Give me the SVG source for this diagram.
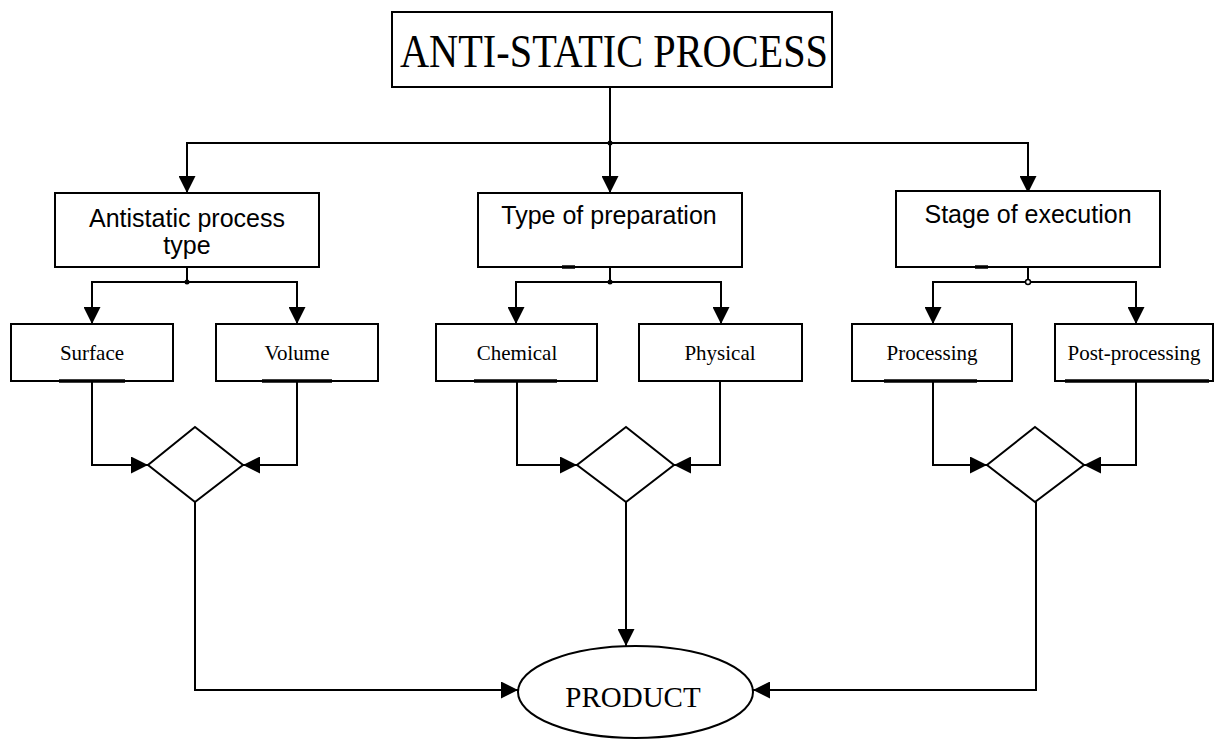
<svg xmlns="http://www.w3.org/2000/svg" width="1215" height="740" viewBox="0 0 1215 740">
<style>
.box{fill:#fff;stroke:#000;stroke-width:2}
.ln{fill:none;stroke:#000;stroke-width:2}
.bar{stroke:#000;stroke-width:3.5}
.sans{font-family:"Liberation Sans",Arial,sans-serif;font-size:25px;fill:#000;text-anchor:middle}
.serif{font-family:"Liberation Serif","Times New Roman",serif;font-size:21px;fill:#000;text-anchor:middle}
</style>
<defs>
<marker id="arr" viewBox="0 0 17 17" refX="17" refY="8.5" markerWidth="17" markerHeight="17" markerUnits="userSpaceOnUse" orient="auto">
<path d="M0,0 L17,8.5 L0,17 Z" fill="#000"/>
</marker>
</defs>
<rect width="1215" height="740" fill="#fff"/>
<g id="connectors">
<line class="ln" x1="610" y1="87" x2="610" y2="143"/>
<path class="ln" d="M187,193 V143 H1028 V193" marker-end="url(#arr)"/>
<path class="ln" d="M187,143 V193" marker-end="url(#arr)"/>
<path class="ln" d="M610,143 V193" marker-end="url(#arr)"/>
<circle cx="610" cy="143" r="2.5" fill="#000"/>
<line class="ln" x1="187" y1="267" x2="187" y2="282"/>
<path class="ln" d="M92,324 V282 H297 V324" marker-end="url(#arr)"/>
<path class="ln" d="M92,282 V324" marker-end="url(#arr)"/>
<circle cx="187" cy="282" r="2.5" fill="#000"/>
<line class="ln" x1="610" y1="267" x2="610" y2="282"/>
<path class="ln" d="M516,324 V282 H721 V324" marker-end="url(#arr)"/>
<path class="ln" d="M516,282 V324" marker-end="url(#arr)"/>
<circle cx="610" cy="282" r="2.5" fill="#000"/>
<line class="ln" x1="1028" y1="267" x2="1028" y2="282"/>
<path class="ln" d="M933,324 V282 H1136 V324" marker-end="url(#arr)"/>
<path class="ln" d="M933,282 V324" marker-end="url(#arr)"/>
<circle cx="1028" cy="282" r="2.5" fill="#fff" stroke="#000" stroke-width="1.5"/>
<path class="ln" d="M92,381 V465 H148" marker-end="url(#arr)"/>
<path class="ln" d="M297,381 V465 H243" marker-end="url(#arr)"/>
<path class="ln" d="M517,381 V465 H577" marker-end="url(#arr)"/>
<path class="ln" d="M720,381 V465 H674" marker-end="url(#arr)"/>
<path class="ln" d="M933,381 V465 H987" marker-end="url(#arr)"/>
<path class="ln" d="M1136,381 V465 H1084" marker-end="url(#arr)"/>
<path class="ln" d="M195,502 V690 H518" marker-end="url(#arr)"/>
<path class="ln" d="M626,502 V646" marker-end="url(#arr)"/>
<path class="ln" d="M1036,502 V690 H753" marker-end="url(#arr)"/>
</g>
<g id="title">
<rect class="box" x="392" y="12" width="440" height="75"/>
<text x="614" y="67" font-family="'Liberation Serif','Times New Roman',serif" font-size="46" text-anchor="middle" textLength="428" lengthAdjust="spacingAndGlyphs">ANTI-STATIC PROCESS</text>
</g>
<g id="antistatic-type">
<rect class="box" x="55" y="193" width="264" height="74"/>
<text class="sans" x="187" y="227">Antistatic process</text>
<text class="sans" x="187" y="254">type</text>
</g>
<g id="type-preparation">
<rect class="box" x="478" y="193" width="264" height="74"/>
<text class="sans" x="609" y="224">Type of preparation</text>
<line class="bar" x1="562" y1="267" x2="575" y2="267"/>
</g>
<g id="stage-execution">
<rect class="box" x="896" y="191" width="264" height="76"/>
<text class="sans" x="1028" y="223">Stage of execution</text>
<line class="bar" x1="975" y1="267" x2="988" y2="267"/>
</g>
<g id="surface">
<rect class="box" x="11" y="324" width="162" height="57"/>
<text class="serif" x="92" y="360">Surface</text>
<line class="bar" x1="59" y1="381" x2="125" y2="381"/>
</g>
<g id="volume">
<rect class="box" x="216" y="324" width="162" height="57"/>
<text class="serif" x="297" y="360">Volume</text>
<line class="bar" x1="262" y1="381" x2="332" y2="381"/>
</g>
<g id="chemical">
<rect class="box" x="436" y="324" width="161" height="57"/>
<text class="serif" x="517" y="360">Chemical</text>
<line class="bar" x1="474" y1="381" x2="557" y2="381"/>
</g>
<g id="physical">
<rect class="box" x="639" y="324" width="163" height="57"/>
<text class="serif" x="720" y="360">Physical</text>
</g>
<g id="processing">
<rect class="box" x="852" y="324" width="160" height="57"/>
<text class="serif" x="932" y="360">Processing</text>
<line class="bar" x1="884" y1="381" x2="977" y2="381"/>
</g>
<g id="post-processing">
<rect class="box" x="1055" y="324" width="158" height="57"/>
<text class="serif" x="1134" y="360">Post-processing</text>
<line class="bar" x1="1065" y1="381" x2="1209" y2="381"/>
</g>
<g id="decision-1">
<polygon class="box" points="195,427 243,465 195,502 148,465"/>
</g>
<g id="decision-2">
<polygon class="box" points="626,427 674,465 626,502 577,465"/>
</g>
<g id="decision-3">
<polygon class="box" points="1035,427 1084,465 1035,502 987,465"/>
</g>
<g id="product">
<ellipse class="box" cx="635.5" cy="692" rx="117.5" ry="46"/>
<text x="633" y="707" font-family="'Liberation Serif','Times New Roman',serif" font-size="29" text-anchor="middle">PRODUCT</text>
</g>
</svg>
